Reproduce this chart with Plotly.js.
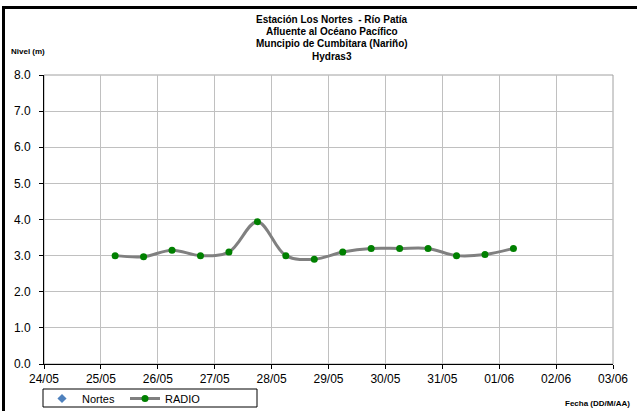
<!DOCTYPE html>
<html>
<head>
<meta charset="utf-8">
<script src="https://cdn.plot.ly/plotly-3.0.1.min.js"></script>
<style>
  html, body { margin: 0; padding: 0; background: #fff; }
  #frame { position: absolute; left: 2px; top: 6px; width: 700px; height: 500px;
           border-left: 3px solid #000; border-top: 3px solid #000; pointer-events: none; }
  #chart { position: absolute; left: 0; top: 0; width: 637px; height: 411px; }
</style>
</head>
<body>
<div id="chart"></div>
<div id="frame"></div>
<script>
// Data
const radioDates = [
  '2012-05-25 06:00', '2012-05-25 18:00',
  '2012-05-26 06:00', '2012-05-26 18:00',
  '2012-05-27 06:00', '2012-05-27 18:00',
  '2012-05-28 06:00', '2012-05-28 18:00',
  '2012-05-29 06:00', '2012-05-29 18:00',
  '2012-05-30 06:00', '2012-05-30 18:00',
  '2012-05-31 06:00', '2012-05-31 18:00',
  '2012-06-01 06:00'
];
const radioLevels = [3.00, 2.97, 3.15, 3.00, 3.10, 3.94, 3.00, 2.90, 3.10, 3.20, 3.20, 3.20, 3.00, 3.03, 3.20];
// The "Nortes" series has no readings in the chart (legend entry only)
const nortesDates = ['2012-05-25 06:00'];
const nortesLevels = [null];

const titleLines = [
  'Estación Los Nortes  - Río Patía',
  'Afluente al Océano Pacífico',
  'Muncipio de Cumbitara (Nariño)',
  'Hydras3'
];

const FONT = 'Liberation Sans, Arial, sans-serif';
const PLOT_T = 75, PLOT_B = 364, PLOT_L = 44, PLOT_R = 613;
const PH = PLOT_B - PLOT_T, PW = PLOT_R - PLOT_L;
const py = (pix) => (PLOT_B - pix) / PH;   // pixel row -> paper y
const px = (pix) => (pix - PLOT_L) / PW;   // pixel col -> paper x

const traces = [
  {
    x: nortesDates, y: nortesLevels, name: 'Nortes', type: 'scatter', mode: 'markers',
    marker: { symbol: 'diamond', color: '#4f81bd', size: 7 }
  },
  {
    x: radioDates, y: radioLevels, name: 'RADIO', type: 'scatter', mode: 'lines+markers',
    line: { color: '#808080', width: 3, shape: 'spline', smoothing: 1 },
    marker: { color: '#008000', size: 7 }
  }
];

const titleAnnotations = titleLines.map((t, i) => ({
  text: '<b>' + t + '</b>', xref: 'paper', yref: 'paper', showarrow: false,
  x: px(332), xanchor: 'center', y: py(20 + i * 12), yanchor: 'middle',
  font: { family: FONT, size: 10, color: '#000' }
}));

const layout = {
  width: 637, height: 411,
  paper_bgcolor: '#ffffff', plot_bgcolor: '#ffffff',
  font: { family: FONT, color: '#000', size: 12 },
  margin: { l: PLOT_L, r: 637 - PLOT_R, t: PLOT_T, b: 411 - PLOT_B, autoexpand: false },
  xaxis: {
    type: 'date',
    range: ['2012-05-24', '2012-06-03'],
    dtick: 86400000, tick0: '2012-05-24',
    tickformat: '%d/%m',
    showgrid: true, gridcolor: '#c0c0c0', gridwidth: 1,
    showline: true, linecolor: '#000', linewidth: 1,
    ticks: 'outside', ticklen: 4, tickcolor: '#000',
    tickfont: { family: FONT, size: 12, color: '#000' },
    zeroline: false, fixedrange: true, automargin: false
  },
  yaxis: {
    range: [0, 8], dtick: 1, tick0: 0, tickformat: '.1f',
    showgrid: true, gridcolor: '#c0c0c0', gridwidth: 1,
    showline: true, linecolor: '#000', linewidth: 1,
    ticks: 'outside', ticklen: 4, tickcolor: '#000',
    ticklabelstandoff: 6,
    tickfont: { family: FONT, size: 12, color: '#000' },
    zeroline: false, fixedrange: true, automargin: false
  },
  showlegend: true,
  legend: {
    orientation: 'h', x: px(42), xanchor: 'left', y: py(384), yanchor: 'top',
    yref: 'paper',
    font: { family: FONT, size: 11, color: '#000' },
    bgcolor: 'rgba(0,0,0,0)', borderwidth: 0,
    entrywidth: 38, entrywidthmode: 'pixels',
    tracegroupgap: 0
  },
  shapes: [
    { type: 'rect', xref: 'paper', yref: 'paper', x0: 0, x1: 1, y0: 0, y1: 1,
      line: { color: '#a0a0a0', width: 1 }, layer: 'below' },
    { type: 'rect', xref: 'paper', yref: 'paper',
      x0: px(43), x1: px(257), y0: py(389), y1: py(407),
      line: { color: '#000', width: 1 }, fillcolor: 'rgba(0,0,0,0)' }
  ],
  annotations: titleAnnotations.concat([
    { text: '<b>Nivel (m)</b>', xref: 'paper', yref: 'paper', showarrow: false,
      x: px(9), xanchor: 'left', y: py(52), yanchor: 'middle',
      font: { family: FONT, size: 8, color: '#000' } },
    { text: '<b>Fecha (DD/M/AA)</b>', xref: 'paper', yref: 'paper', showarrow: false,
      x: px(632), xanchor: 'right', y: py(403), yanchor: 'middle',
      font: { family: FONT, size: 8, color: '#000' } }
  ])
};

Plotly.newPlot('chart', traces, layout, { displayModeBar: false, staticPlot: true });
</script>
</body>
</html>
